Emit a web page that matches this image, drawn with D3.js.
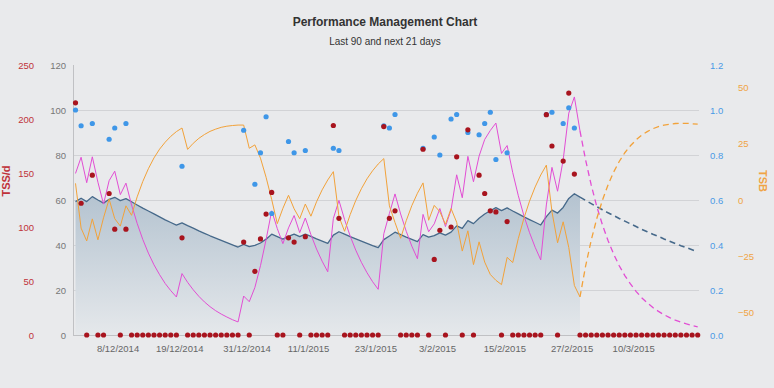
<!DOCTYPE html>
<html>
<head>
<meta charset="utf-8">
<script src="https://cdn.jsdelivr.net/npm/d3@7"></script>
<style>
	html, body { margin: 0; padding: 0; background: #e9eaec; }
	svg { display: block; }
</style>
</head>
<body>
<svg id="chart" width="774" height="388"></svg>
<script>
// daily values, first day 1/12/2014, "today" is index 90
const startDate = '1/12/2014'
const todayIndex = 90

const tss = [
	215, 122, 0, 148, 0, 0, 131, 98, 0, 98,
	0, 0, 0, 0, 0, 0, 0, 0, 0, 90,
	0, 0, 0, 0, 0, 0, 0, 0, 0, 0,
	86, 0, 59, 89, 112, 132, 0, 0, 90, 86,
	0, 91, 0, 0, 0, 0, 194, 108, 0, 0,
	0, 0, 0, 0, 0, 193, 108, 115, 0, 0,
	0, 0, 172, 0, 70, 97, 0, 100, 165, 0,
	190, 0, 148, 131, 115, 114, 0, 105, 0, 0,
	0, 0, 0, 0, 204, 175, 0, 161, 224, 149,
	0, 0, 0, 0, 0, 0, 0, 0, 0, 0,
	0, 0, 0, 0, 0, 0, 0, 0, 0, 0,
	0, 0
]

const intensity = [
	1.00, 0.93, null, 0.94, null, null, 0.87, 0.92, null, 0.94,
	null, null, null, null, null, null, null, null, null, 0.75,
	null, null, null, null, null, null, null, null, null, null,
	0.91, null, 0.67, 0.81, 0.97, 0.54, null, null, 0.86, 0.81,
	null, 0.82, null, null, null, null, 0.83, 0.82, null, null,
	null, null, null, null, null, 0.93, 0.92, 0.98, null, null,
	null, null, 0.83, null, 0.88, 0.80, null, 0.96, 0.98, null,
	0.90, null, 0.89, 0.94, 0.99, 0.78, null, 0.81, null, null,
	null, null, null, null, 0.98, 0.99, null, 0.94, 1.01, 0.92,
	null, null, null, null, null, null, null, null, null, null,
	null, null, null, null, null, null, null, null, null, null,
	null, null
]

const ctl = [
	59.3, 60.8, 59.3, 61.5, 60.0, 58.6, 60.3, 61.2, 59.7, 60.6,
	59.2, 57.8, 56.4, 55.1, 53.8, 52.5, 51.2, 50.0, 48.8, 49.8,
	48.6, 47.5, 46.3, 45.2, 44.1, 43.1, 42.1, 41.1, 40.1, 39.1,
	40.3, 39.3, 39.8, 40.9, 42.6, 44.8, 43.7, 42.6, 43.8, 44.8,
	43.7, 44.8, 43.8, 42.7, 41.7, 40.7, 44.4, 45.9, 44.8, 43.7,
	42.7, 41.7, 40.7, 39.7, 38.8, 42.4, 44.0, 45.7, 44.6, 43.5,
	42.5, 41.5, 44.6, 43.5, 44.2, 45.4, 44.4, 45.7, 48.5, 47.4,
	50.8, 49.5, 51.9, 53.8, 55.2, 56.6, 55.3, 56.5, 55.1, 53.8,
	52.5, 51.3, 50.1, 48.9, 52.6, 55.5, 54.2, 56.7, 60.7, 62.8,
	61.3, 59.8, 58.4, 57.0, 55.7, 54.3, 53.1, 51.8, 50.6, 49.4,
	48.2, 47.0, 45.9, 44.8, 43.8, 42.7, 41.7, 40.7, 39.7, 38.8,
	37.9, 37.0
]

const atl = [
	71.8, 79.0, 67.7, 79.2, 67.9, 58.2, 68.6, 72.8, 62.4, 67.5,
	57.8, 49.6, 42.5, 36.4, 31.2, 26.8, 22.9, 19.7, 16.9, 27.3,
	23.4, 20.1, 17.2, 14.7, 12.6, 10.8, 9.3, 8.0, 6.8, 5.8,
	17.3, 14.8, 21.1, 30.8, 42.4, 55.2, 47.3, 40.6, 47.6, 53.1,
	45.5, 52.0, 44.6, 38.2, 32.8, 28.1, 51.8, 59.8, 51.3, 44.0,
	37.7, 32.3, 27.7, 23.7, 20.3, 45.0, 54.0, 62.7, 53.8, 46.1,
	39.5, 33.9, 53.6, 45.9, 49.4, 56.2, 48.2, 55.6, 71.2, 61.0,
	79.4, 68.1, 79.5, 86.9, 90.9, 94.2, 80.7, 84.2, 72.2, 61.9,
	53.0, 45.5, 39.0, 33.4, 57.8, 74.5, 63.9, 77.8, 98.6, 105.8,
	90.7, 77.8, 66.7, 57.1, 49.0, 42.0, 36.0, 30.8, 26.4, 22.7,
	19.4, 16.6, 14.3, 12.2, 10.5, 9.0, 7.7, 6.6, 5.7, 4.9,
	4.2, 3.6
]

const tsb = [
	7.4, -12.5, -18.2, -8.4, -17.7, -7.9, 0.4, -8.3, -11.6, -2.6,
	-6.8, 1.4, 8.2, 13.9, 18.7, 22.6, 25.7, 28.3, 30.4, 32.0,
	22.5, 25.2, 27.4, 29.1, 30.5, 31.5, 32.3, 32.8, 33.1, 33.3,
	33.3, 23.0, 24.5, 18.6, 10.1, 0.2, -10.5, -3.7, 2.1, -3.9,
	-8.3, -1.8, -7.2, -0.8, 4.5, 8.9, 12.6, -7.4, -13.9, -6.5,
	-0.2, 5.0, 9.4, 13.0, 16.0, 18.4, -2.6, -10.0, -17.0, -9.2,
	-2.5, 3.0, 7.6, -9.0, -2.4, -5.2, -10.8, -3.8, -9.9, -22.7,
	-13.7, -28.7, -18.6, -27.6, -33.1, -35.7, -37.6, -25.5, -27.8, -17.1,
	-8.1, -0.5, 5.8, 11.1, 15.5, -5.2, -19.0, -9.7, -21.1, -38.0,
	-43.1, -29.4, -17.9, -8.2, -0.1, 6.7, 12.4, 17.1, 21.0, 24.1,
	26.7, 28.8, 30.4, 31.7, 32.6, 33.3, 33.7, 34.0, 34.1, 34.1,
	33.9, 33.7
]

const loadTicks = [0, 20, 40, 60, 80, 100, 120]
const tssTicks = [0, 50, 100, 150, 200, 250]
const ifTicks = [0, 0.2, 0.4, 0.6, 0.8, 1.0, 1.2]
const tsbTicks = [-50, -25, 0, 25, 50]
const dateTicks = ['8/12/2014', '19/12/2014', '31/12/2014', '11/1/2015', '23/1/2015', '3/2/2015', '15/2/2015', '27/2/2015', '10/3/2015']

const font = "'Liberation Sans', Arial, Helvetica, sans-serif"
const plot = { left: 73, right: 699, top: 65, bottom: 335 }

const parseDate = d3.utcParse('%d/%m/%Y')
const first = parseDate(startDate)
const days = tss.map((d, i) => d3.utcDay.offset(first, i))

const x = d3.scaleUtc()
	.domain([days[0], days[days.length - 1]])
	.range([75.5, 697.7])
const yLoad = d3.scaleLinear().domain([0, 120]).range([plot.bottom, plot.top])
const yTss = d3.scaleLinear().domain([0, 250]).range([plot.bottom, plot.top])
const yIf = d3.scaleLinear().domain([0, 1.2]).range([plot.bottom, plot.top])
const yTsb = d3.scaleLinear().domain([-60, 60]).range([plot.bottom, plot.top])

const svg = d3.select('#chart').style('font-family', font)

// titles
svg.append('text')
	.attr('x', 385).attr('y', 26)
	.attr('text-anchor', 'middle')
	.attr('font-size', 12).attr('font-weight', 'bold')
	.attr('fill', '#333')
	.text('Performance Management Chart')
svg.append('text')
	.attr('x', 385).attr('y', 44.5)
	.attr('text-anchor', 'middle')
	.attr('font-size', 10)
	.attr('fill', '#333')
	.text('Last 90 and next 21 days')

// grid
svg.append('g')
	.selectAll('line')
	.data(loadTicks.filter(d => d > 0 && d < 120))
	.join('line')
	.attr('x1', plot.left).attr('x2', plot.right)
	.attr('y1', d => Math.round(yLoad(d)) + 0.5)
	.attr('y2', d => Math.round(yLoad(d)) + 0.5)
	.attr('stroke', '#d2d3d6')
	.attr('stroke-width', 1)

const styleAxis = (g, color) => {
	g.select('.domain').remove()
	g.selectAll('text')
		.attr('fill', color)
		.attr('font-size', 9.5)
		.attr('font-family', font)
}

// left axes
svg.append('g')
	.attr('transform', `translate(${plot.left},0)`)
	.call(d3.axisLeft(yLoad).tickValues(loadTicks).tickSize(0).tickPadding(7))
	.call(g => styleAxis(g, '#777'))
svg.append('g')
	.attr('transform', 'translate(34,0)')
	.call(d3.axisLeft(yTss).tickValues(tssTicks).tickSize(0).tickPadding(0))
	.call(g => styleAxis(g, '#c0323a'))

// right axes
svg.append('g')
	.attr('transform', 'translate(710,0)')
	.call(d3.axisRight(yIf).tickValues(ifTicks).tickFormat(d3.format('.1f')).tickSize(0).tickPadding(0))
	.call(g => styleAxis(g, '#4a9ae6'))
svg.append('g')
	.attr('transform', 'translate(738,0)')
	.call(d3.axisRight(yTsb).tickValues(tsbTicks).tickSize(0).tickPadding(0))
	.call(g => styleAxis(g, '#f0a444'))

// axis titles
svg.append('text')
	.attr('transform', 'translate(10,181) rotate(-90)')
	.attr('text-anchor', 'middle')
	.attr('font-size', 11).attr('font-weight', 'bold')
	.attr('fill', '#c0323a')
	.text('TSS/d')
svg.append('text')
	.attr('transform', 'translate(759,181) rotate(90)')
	.attr('text-anchor', 'middle')
	.attr('font-size', 11).attr('font-weight', 'bold')
	.attr('fill', '#f0a444')
	.text('TSB')

// x axis
const tickDates = dateTicks.map(s => d3.utcHour.offset(parseDate(s), 12))
svg.append('g')
	.attr('transform', `translate(0,${plot.bottom})`)
	.call(d3.axisBottom(x).tickValues(tickDates).tickFormat((d, i) => dateTicks[i]).tickSize(0).tickPadding(10))
	.call(g => styleAxis(g, '#666'))

svg.append('line')
	.attr('x1', plot.left + 0.5).attr('x2', plot.left + 0.5)
	.attr('y1', plot.top).attr('y2', plot.bottom)
	.attr('stroke', '#c0c1c4')
svg.append('line')
	.attr('x1', plot.left).attr('x2', plot.right)
	.attr('y1', plot.bottom + 0.5).attr('y2', plot.bottom + 0.5)
	.attr('stroke', '#c0c1c4')

// CTL area
const grad = svg.append('defs').append('linearGradient')
	.attr('id', 'ctlFill')
	.attr('x1', 0).attr('y1', 0).attr('x2', 0).attr('y2', 1)
grad.append('stop').attr('offset', 0).attr('stop-color', '#b4c3d0')
grad.append('stop').attr('offset', 1).attr('stop-color', '#e5e8eb')

const past = d3.range(0, todayIndex + 1)
const future = d3.range(todayIndex, days.length)

svg.append('path')
	.datum(past)
	.attr('d', d3.area().x(i => x(days[i])).y0(yLoad(0)).y1(i => yLoad(ctl[i])))
	.attr('fill', 'url(#ctlFill)')

const series = [
	{ values: ctl, scale: yLoad, color: '#46698a', width: 1.3 },
	{ values: atl, scale: yLoad, color: '#e24ed4', width: 1 },
	{ values: tsb, scale: yTsb, color: '#f2a23a', width: 1 }
]

series.forEach(s => {
	const gen = d3.line().x(i => x(days[i])).y(i => s.scale(s.values[i]))
	svg.append('path')
		.datum(past)
		.attr('d', gen)
		.attr('fill', 'none')
		.attr('stroke', s.color)
		.attr('stroke-width', s.width)
		.attr('stroke-linejoin', 'round')
	svg.append('path')
		.datum(future)
		.attr('d', gen)
		.attr('fill', 'none')
		.attr('stroke', s.color)
		.attr('stroke-width', s.width + 0.3)
		.attr('stroke-dasharray', '6,4')
})

// IF dots
svg.append('g')
	.selectAll('circle')
	.data(intensity.map((v, i) => ({ v, i })).filter(d => d.v !== null))
	.join('circle')
	.attr('cx', d => x(days[d.i]))
	.attr('cy', d => yIf(d.v))
	.attr('r', 2.6)
	.attr('fill', '#3f97e8')

// TSS dots
svg.append('g')
	.selectAll('circle')
	.data(tss)
	.join('circle')
	.attr('cx', (d, i) => x(days[i]))
	.attr('cy', d => yTss(d))
	.attr('r', 2.6)
	.attr('fill', '#a8141e')
</script>
</body>
</html>
